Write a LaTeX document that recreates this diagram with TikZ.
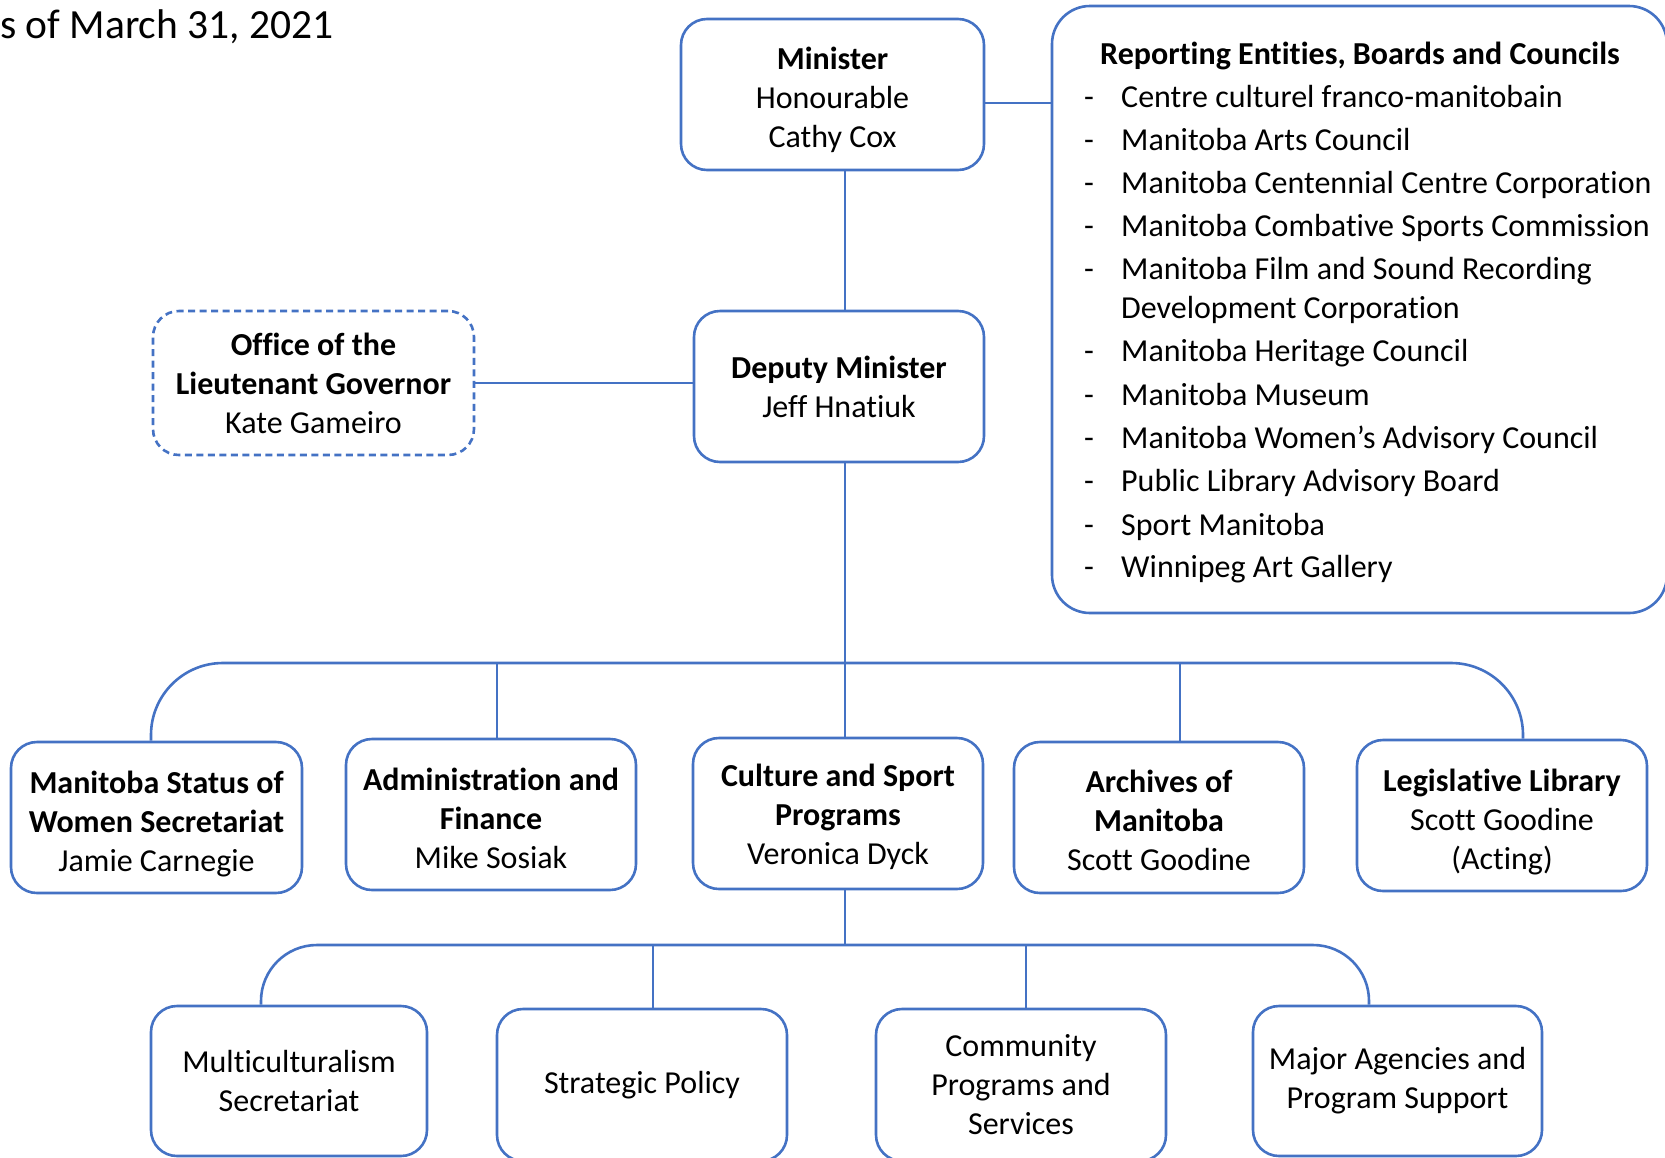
\documentclass[tikz,border=0pt]{standalone}
\usepackage{fontspec}
\setmainfont{Carlito}[Ligatures=NoCommon]
\usetikzlibrary{calc}
\definecolor{orgblue}{HTML}{4472C4}
\newcommand\rdashitem[1]{\makebox[37pt][l]{-}#1}
\newcommand\liftline[1]{\rule{0pt}{#1}}
\begin{document}
\begin{tikzpicture}[x=1pt,y=-1pt,
  box/.style={draw=orgblue, line width=2.6pt, rounded corners=26pt, fill=white, align=center, inner sep=0pt, font=\fontsize{32}{39}\selectfont, minimum height=151pt, minimum width=290pt},
  conn/.style={draw=orgblue, line width=2.6pt},
  item/.style={anchor=base west, inner sep=0pt, font=\fontsize{32}{40}\selectfont}]
\useasboundingbox (0,0) rectangle (1665,1157);

% date text
\node[anchor=base west, inner sep=0pt, font=\fontsize{41.5}{48}\selectfont] (date) at (0,38) {s of March 31, 2021};

% reporting entities box
\node[draw=orgblue, line width=2.6pt, rounded corners=38pt, minimum width=615pt, minimum height=607pt, inner sep=0pt] (rep) at (1359.5,309.5) {};
\node[item, font=\bfseries\fontsize{32}{40}\selectfont] (rtitle) at (1100,64) {Reporting Entities, Boards and Councils};
\node[item] (r1) at (1084,107) {\rdashitem{Centre culturel franco-manitobain}};
\node[item] (r2) at (1084,150) {\rdashitem{Manitoba Arts Council}};
\node[item] (r3) at (1084,193) {\rdashitem{Manitoba Centennial Centre Corporation}};
\node[item] (r4) at (1084,236) {\rdashitem{Manitoba Combative Sports Commission}};
\node[item] (r5) at (1084,279) {\rdashitem{Manitoba Film and Sound Recording}};
\node[item] (r5b) at (1121,318) {Development Corporation};
\node[item] (r6) at (1084,361) {\rdashitem{Manitoba Heritage Council}};
\node[item] (r7) at (1084,405) {\rdashitem{Manitoba Museum}};
\node[item] (r8) at (1084,448) {\rdashitem{Manitoba Women’s Advisory Council}};
\node[item] (r9) at (1084,491) {\rdashitem{Public Library Advisory Board}};
\node[item] (r10) at (1084,535) {\rdashitem{Sport Manitoba}};
\node[item] (r11) at (1084,577) {\rdashitem{Winnipeg Art Gallery}};

% top boxes
\node[box, minimum width=303pt] (min) at (832.5,94.5) {\liftline{33pt}\textbf{Minister}\\Honourable\\Cathy Cox};
\node[box] (dep) at (839,386.5) {\textbf{Deputy Minister}\\Jeff Hnatiuk};
\node[box, dash pattern=on 7pt off 4.5pt, minimum width=321pt, minimum height=144pt] (off) at (313.5,383) {\textbf{Office of the}\\\textbf{Lieutenant Governor}\\Kate Gameiro};

% level 2
\node[box, minimum width=291pt] (mws) at (156.5,817.5) {\liftline{34.8pt}\textbf{Manitoba Status of}\\\textbf{Women Secretariat}\\Jamie Carnegie};
\node[box] (adm) at (491,814.5) {\liftline{29.5pt}\textbf{Administration and}\\\textbf{Finance}\\Mike Sosiak};
\node[box] (cul) at (838,813.5) {\liftline{30pt}\textbf{Culture and Sport}\\\textbf{Programs}\\Veronica Dyck};
\node[box] (arc) at (1159,817.5) {\liftline{29pt}\textbf{Archives of}\\\textbf{Manitoba}\\Scott Goodine};
\node[box] (leg) at (1502,815.5) {\liftline{34.8pt}\textbf{Legislative Library}\\Scott Goodine\\(Acting)};

% level 3
\node[box, minimum width=276pt, minimum height=150pt] (mul) at (289,1081) {Multiculturalism\\Secretariat};
\node[box, minimum height=152pt] (str) at (642,1085) {Strategic Policy};
\node[box, minimum height=152pt] (com) at (1021,1085) {Community\\Programs and\\Services};
\node[box, minimum width=289pt, minimum height=150pt] (maj) at (1397.5,1081) {Major Agencies and\\Program Support};

% helper coordinates
\coordinate (spine) at (845,0);
\coordinate (ym) at (0,103);
\coordinate (busa) at (845,663);
\coordinate (busb) at (845,945);
\coordinate (xa1) at (151,0);
\coordinate (xa2) at (497,0);
\coordinate (xa4) at (1180,0);
\coordinate (xa5) at (1523,0);
\coordinate (xb1) at (261,0);
\coordinate (xb2) at (653,0);
\coordinate (xb3) at (1026,0);
\coordinate (xb4) at (1369,0);

% connectors
\draw[conn] (min.east |- ym) -- (rep.west |- ym);
\draw[conn] (min.south -| spine) -- (dep.north -| spine);
\draw[conn] (off.east) -- (off.east -| dep.west);
\draw[conn] (dep.south -| spine) -- (cul.north -| spine);
\draw[conn, rounded corners=72pt] (mws.north -| xa1) -- (busa -| xa1) -- (busa -| xa5) -- (leg.north -| xa5);
\draw[conn] (adm.north -| xa2) -- (busa -| xa2);
\draw[conn] (arc.north -| xa4) -- (busa -| xa4);
\draw[conn] (cul.south -| spine) -- (busb);
\draw[conn, rounded corners=56pt] (mul.north -| xb1) -- (busb -| xb1) -- (busb -| xb4) -- (maj.north -| xb4);
\draw[conn] (str.north -| xb2) -- (busb -| xb2);
\draw[conn] (com.north -| xb3) -- (busb -| xb3);
\end{tikzpicture}
\end{document}
